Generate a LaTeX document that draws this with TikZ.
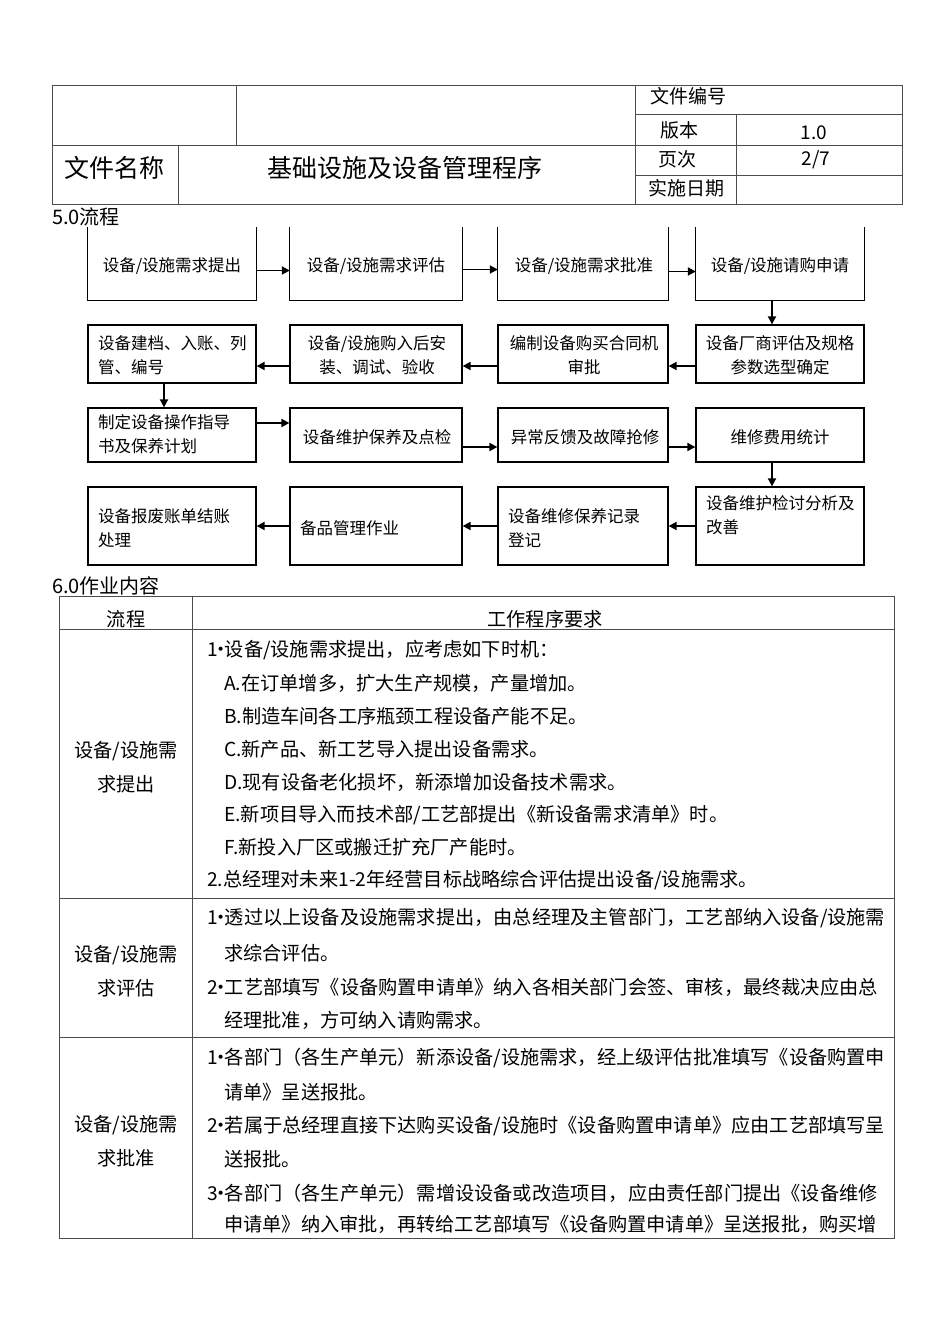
\documentclass[tikz,border=0pt]{standalone}
\usepackage{fontspec}
\setmainfont{Noto Sans CJK SC}
\usetikzlibrary{arrows.meta}
\newcommand{\mybul}{\makebox[7pt][c]{•}}
\tikzset{
  grid/.style={draw=black!70, line width=0.9pt},
  fbox/.style={draw=black, line width=1.3pt, inner sep=0pt},
  fopen/.style={inner sep=0pt},
  openline/.style={draw=black, line width=1.3pt},
  ft/.style={font=\fontsize{16.5}{24}\selectfont, inner sep=0pt},
  tt/.style={font=\fontsize{19.2}{33}\selectfont, inner sep=0pt, anchor=west},
  tc/.style={font=\fontsize{19.2}{33}\selectfont, inner sep=0pt},
  hd/.style={font=\fontsize{19}{24}\selectfont, inner sep=0pt},
  big/.style={font=\fontsize{25}{30}\selectfont, inner sep=0pt},
  arr/.style={line width=1.8pt, -{Triangle[length=8pt,width=8pt]}}
}
\begin{document}
\begin{tikzpicture}[x=1pt,y=-1pt]
\useasboundingbox (0,0) rectangle (950,1344);
\fill[white] (0,0) rectangle (950,1344);

% ---------- header table ----------
\draw[grid] (52,85) rectangle (902,204);
\draw[grid] (52,145) -- (902,145);
\draw[grid] (236,85) -- (236,145);
\draw[grid] (178,145) -- (178,204);
\draw[grid] (635,85) -- (635,204);
\draw[grid] (635,114) -- (902,114);
\draw[grid] (635,175) -- (902,175);
\draw[grid] (736,114) -- (736,204);

\node[big] (hname) at (114,168) {文件名称};
\node[big] (htitle) at (405,168) {基础设施及设备管理程序};
\node[hd, anchor=west] (hno) at (650,96) {文件编号};
\node[hd] (hver) at (679,130) {版本};
\node[hd] (hverv) at (814,133) {1.0};
\node[hd] (hpage) at (677,159) {页次};
\node[hd] (hpagev) at (816,160) {2/7};
\node[hd, anchor=west] (hdate) at (648,188) {实施日期};

\node[font=\fontsize{20}{24}\selectfont, inner sep=0pt, anchor=west] (sec5) at (52,217) {5.0流程};

% ---------- flowchart ----------
% row 1 (open top)
\node[fopen, minimum width=168pt, minimum height=73pt] (b11) at (172,263.5) {};
\node[fopen, minimum width=172pt, minimum height=73pt] (b12) at (376,263.5) {};
\node[fopen, minimum width=170pt, minimum height=73pt] (b13) at (583,263.5) {};
\node[fopen, minimum width=168pt, minimum height=73pt] (b14) at (780,263.5) {};
\foreach \b in {b11,b12,b13,b14}
  \draw[openline] (\b.north west) -- (\b.south west) -- (\b.south east) -- (\b.north east);
% row 2
\node[fbox, minimum width=168pt, minimum height=58pt] (b21) at (172,354) {};
\node[fbox, minimum width=172pt, minimum height=58pt] (b22) at (376,354) {};
\node[fbox, minimum width=170pt, minimum height=58pt] (b23) at (583,354) {};
\node[fbox, minimum width=168pt, minimum height=58pt] (b24) at (780,354) {};
% row 3
\node[fbox, minimum width=168pt, minimum height=54pt] (b31) at (172,435) {};
\node[fbox, minimum width=172pt, minimum height=54pt] (b32) at (376,435) {};
\node[fbox, minimum width=170pt, minimum height=54pt] (b33) at (583,435) {};
\node[fbox, minimum width=168pt, minimum height=54pt] (b34) at (780,435) {};
% row 4
\node[fbox, minimum width=168pt, minimum height=78pt] (b41) at (172,526) {};
\node[fbox, minimum width=172pt, minimum height=78pt] (b42) at (376,526) {};
\node[fbox, minimum width=170pt, minimum height=78pt] (b43) at (583,526) {};
\node[fbox, minimum width=168pt, minimum height=78pt] (b44) at (780,526) {};

% texts
\node[ft] (t11) at (172,266) {设备/设施需求提出};
\node[ft] (t12) at (376,266) {设备/设施需求评估};
\node[ft] (t13) at (584,266) {设备/设施需求批准};
\node[ft] (t14) at (780,266) {设备/设施请购申请};

\node[ft, anchor=west, align=left] (t21) at (98,355) {设备建档、入账、列\\管、编号};
\node[ft, align=center] (t22) at (377,355) {设备/设施购入后安\\装、调试、验收};
\node[ft, align=center] (t23) at (584,355) {编制设备购买合同机\\审批};
\node[ft, align=center] (t24) at (780,355) {设备厂商评估及规格\\参数选型确定};

\node[ft, anchor=west, align=left] (t31) at (98,434) {制定设备操作指导\\书及保养计划};
\node[ft] (t32) at (377,437) {设备维护保养及点检};
\node[ft] (t33) at (585,437) {异常反馈及故障抢修};
\node[ft] (t34) at (780,437) {维修费用统计};

\node[ft, anchor=west, align=left] (t41) at (98,528) {设备报废账单结账\\处理};
\node[ft, anchor=west] (t42) at (300,528) {备品管理作业};
\node[ft, anchor=west, align=left] (t43) at (508,528) {设备维修保养记录\\登记};
\node[ft, anchor=west, align=left] (t44) at (706,515) {设备维护检讨分析及\\改善};

% arrows
\draw[arr] ([yshift=-7pt]b11.east) -- ([yshift=-7pt]b12.west);
\draw[arr] ([yshift=-6pt]b12.east) -- ([yshift=-6pt]b13.west);
\draw[arr] ([yshift=-8pt]b13.east) -- ([yshift=-8pt]b14.west);
\draw[arr] ([xshift=-8pt]b14.south) -- ([xshift=-8pt]b24.north);
\draw[arr] ([yshift=-12pt]b24.west) -- ([yshift=-12pt]b23.east);
\draw[arr] ([yshift=-12pt]b23.west) -- ([yshift=-12pt]b22.east);
\draw[arr] ([yshift=-12pt]b22.west) -- ([yshift=-12pt]b21.east);
\draw[arr] ([xshift=-8pt]b21.south) -- ([xshift=-8pt]b31.north);
\draw[arr] ([yshift=12pt]b31.east) -- ([yshift=12pt]b32.west);
\draw[arr] ([yshift=-12pt]b32.east) -- ([yshift=-12pt]b33.west);
\draw[arr] ([yshift=-12pt]b33.east) -- ([yshift=-12pt]b34.west);
\draw[arr] ([xshift=-8pt]b34.south) -- ([xshift=-8pt]b44.north);
\draw[arr] (b44.west) -- (b43.east);
\draw[arr] (b43.west) -- (b42.east);
\draw[arr] (b42.west) -- (b41.east);

% ---------- section 6 table ----------
\node[font=\fontsize{20}{24}\selectfont, inner sep=0pt, anchor=west] (sec6) at (52,586) {6.0作业内容};
\draw[grid] (59,596) rectangle (894,1238);
\draw[grid] (192,596) -- (192,1238);
\draw[grid] (59,629) -- (894,629);
\draw[grid] (59,898) -- (894,898);
\draw[grid] (59,1037) -- (894,1037);

\node[tc] (th1) at (126,619) {流程};
\node[tc] (th2) at (545,619) {工作程序要求};

% row 1
\node[tc] (l1a) at (126,751) {设备/设施需};
\node[tc] (l1b) at (126,784) {求提出};
\node[tt] (r1a) at (207,650) {1\mybul 设备/设施需求提出，应考虑如下时机：};
\node[tt] (r1b) at (224,683) {A.在订单增多，扩大生产规模，产量增加。};
\node[tt] (r1c) at (224,716) {B.制造车间各工序瓶颈工程设备产能不足。};
\node[tt] (r1d) at (224,749) {C.新产品、新工艺导入提出设备需求。};
\node[tt] (r1e) at (224,782) {D.现有设备老化损坏，新添增加设备技术需求。};
\node[tt] (r1f) at (224,815) {E.新项目导入而技术部/工艺部提出《新设备需求清单》时。};
\node[tt] (r1g) at (224,847) {F.新投入厂区或搬迁扩充厂产能时。};
\node[tt] (r1h) at (207,880) {2.总经理对未来1-2年经营目标战略综合评估提出设备/设施需求。};

% row 2
\node[tc] (l2a) at (126,955) {设备/设施需};
\node[tc] (l2b) at (126,988) {求评估};
\node[tt] (r2a) at (207,918) {1\mybul 透过以上设备及设施需求提出，由总经理及主管部门，工艺部纳入设备/设施需};
\node[tt] (r2b) at (224,953) {求综合评估。};
\node[tt] (r2c) at (207,987) {2\mybul 工艺部填写《设备购置申请单》纳入各相关部门会签、审核，最终裁决应由总};
\node[tt] (r2d) at (224,1020) {经理批准，方可纳入请购需求。};

% row 3
\node[tc] (l3a) at (126,1125) {设备/设施需};
\node[tc] (l3b) at (126,1158) {求批准};
\node[tt] (r3a) at (207,1058) {1\mybul 各部门（各生产单元）新添设备/设施需求，经上级评估批准填写《设备购置申};
\node[tt] (r3b) at (224,1092) {请单》呈送报批。};
\node[tt] (r3c) at (207,1126) {2\mybul 若属于总经理直接下达购买设备/设施时《设备购置申请单》应由工艺部填写呈};
\node[tt] (r3d) at (224,1159) {送报批。};
\node[tt] (r3e) at (207,1193) {3\mybul 各部门（各生产单元）需增设设备或改造项目，应由责任部门提出《设备维修};
\node[tt] (r3f) at (224,1224) {申请单》纳入审批，再转给工艺部填写《设备购置申请单》呈送报批，购买增};
\end{tikzpicture}
\end{document}
